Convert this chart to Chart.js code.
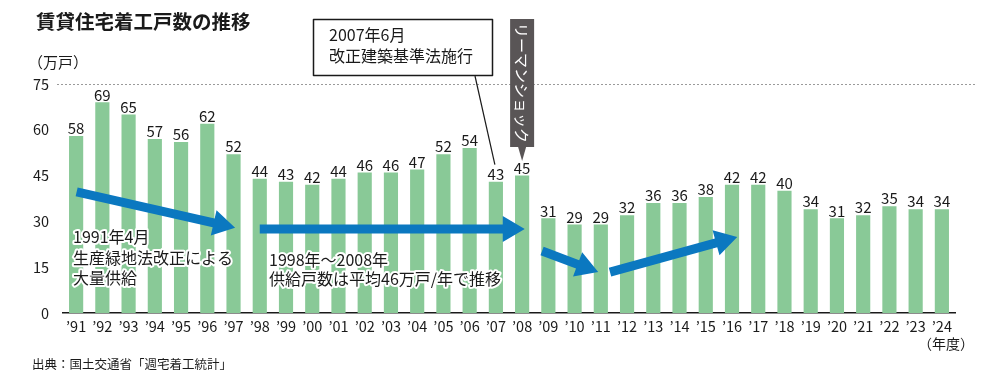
<!DOCTYPE html>
<html><head><meta charset="utf-8">
<script src="https://cdn.jsdelivr.net/npm/chart.js@4/dist/chart.umd.min.js"></script>
<style>html,body{margin:0;padding:0;background:#fff;}canvas{display:block;}</style>
</head><body>
<canvas id="c" width="1000" height="385"></canvas>
<script>
const years = ["’91","’92","’93","’94","’95","’96","’97","’98","’99","’00","’01","’02","’03","’04","’05","’06","’07","’08","’09","’10","’11","’12","’13","’14","’15","’16","’17","’18","’19","’20","’21","’22","’23","’24"];
const values = [58,69,65,57,56,62,52,44,43,42,44,46,46,47,52,54,43,45,31,29,29,32,36,36,38,42,42,40,34,31,32,35,34,34];
const yTicks = [0,15,30,45,60,75];
const titleText = "賃貸住宅着工戸数の推移";
const unitText = "（万戸）";
const xUnitText = "（年度）";
const sourceText = "出典：国土交通省「週宅着工統計」";
const note1 = ["1991年4月","生産緑地法改正による","大量供給"];
const note2 = ["1998年～2008年","供給戸数は平均46万戸/年で推移"];
const box1 = ["2007年6月","改正建築基準法施行"];
const lehman = "リーマンショック";
// arrows in data coords: [catIndexStart, valueStart, catIndexEnd, valueEnd]
const arrows = [[0.02,39.7,6.06,27.9],[7.0,27.5,17.1,27.5],[17.76,20.3,19.9,13.4],[20.35,13.4,25.2,24.9]];

const FONT = '"Noto Sans CJK JP","Noto Sans",sans-serif';
const BLUE = '#0B78C0';

function drawArrow(ctx,x1,y1,x2,y2,sw,hl,hw){
  const dx=x2-x1, dy=y2-y1, L=Math.hypot(dx,dy);
  const ux=dx/L, uy=dy/L, nx=-uy, ny=ux;
  const bx=x2-ux*hl, by=y2-uy*hl;
  ctx.beginPath();
  ctx.moveTo(x1+nx*sw/2,y1+ny*sw/2);
  ctx.lineTo(bx+nx*sw/2,by+ny*sw/2);
  ctx.lineTo(bx+nx*hw/2,by+ny*hw/2);
  ctx.lineTo(x2,y2);
  ctx.lineTo(bx-nx*hw/2,by-ny*hw/2);
  ctx.lineTo(bx-nx*sw/2,by-ny*sw/2);
  ctx.lineTo(x1-nx*sw/2,y1-ny*sw/2);
  ctx.closePath();
  ctx.fillStyle=BLUE; ctx.fill();
}
function haloText(ctx,t,x,y){
  ctx.lineJoin='round';
  ctx.strokeStyle='#fff'; ctx.lineWidth=4; ctx.strokeText(t,x,y);
  ctx.fillStyle='#1a1a1a'; ctx.fillText(t,x,y);
}

const deco = {
  id:'deco',
  beforeDatasetsDraw(chart){
    const ctx=chart.ctx, ys=chart.scales.y;
    const y75=Math.round(ys.getPixelForValue(75))+0.5;
    ctx.save();
    ctx.strokeStyle='#9a9a9a'; ctx.lineWidth=1; ctx.setLineDash([2,2]);
    ctx.beginPath(); ctx.moveTo(57,y75); ctx.lineTo(975,y75); ctx.stroke();
    ctx.restore();
  },
  afterDraw(chart){
    const ctx=chart.ctx, xs=chart.scales.x, ys=chart.scales.y;
    const x0=xs.getPixelForValue(0), step=xs.getPixelForValue(1)-x0;
    const px=i=>x0+i*step, py=v=>ys.getPixelForValue(v);
    ctx.save();
    // data labels
    ctx.font='15px '+FONT; ctx.fillStyle='#1a1a1a'; ctx.textAlign='center'; ctx.textBaseline='bottom';
    const meta=chart.getDatasetMeta(0);
    meta.data.forEach((b,i)=>{ ctx.fillText(String(values[i]), b.x, b.y); });
    // arrows
    arrows.forEach(r=>drawArrow(ctx,px(r[0]),py(r[1]),px(r[2]),py(r[3]),9,22,26));
    // notes
    ctx.font='16px '+FONT; ctx.textAlign='left'; ctx.textBaseline='middle';
    note1.forEach((t,i)=>haloText(ctx,t,73,237+i*20.5));
    note2.forEach((t,i)=>haloText(ctx,t,269,260+i*19));
    // title
    ctx.fillStyle='#1a1a1a';
    ctx.font='bold 19.5px '+FONT; ctx.textBaseline='middle';
    ctx.fillText(titleText,36,22);
    ctx.font='15px '+FONT; ctx.fillText(unitText,28,62);
    ctx.font='12.5px '+FONT; ctx.fillText(sourceText,32,364);
    ctx.font='14px '+FONT; ctx.textAlign='right'; ctx.fillText(xUnitText,974,344);
    // 2007 box
    ctx.fillStyle='#fff'; ctx.fillRect(313,19,180,57);
    ctx.strokeStyle='#1a1a1a'; ctx.lineWidth=1.5; ctx.strokeRect(313.5,19.5,179,56);
    ctx.fillStyle='#1a1a1a'; ctx.font='16px '+FONT; ctx.textAlign='left';
    ctx.fillText(box1[0],329,35); ctx.fillText(box1[1],329,56);
    ctx.lineWidth=1.2; ctx.beginPath(); ctx.moveTo(475,76); ctx.lineTo(px(16)-1,py(values[16])-17); ctx.stroke();
    // Lehman callout
    const lx=px(17);
    ctx.fillStyle='#595556';
    ctx.fillRect(lx-12,19,24,128);
    ctx.beginPath(); ctx.moveTo(lx-4,147); ctx.lineTo(lx+4,147); ctx.lineTo(lx,161); ctx.closePath(); ctx.fill();
    ctx.translate(lx,83); ctx.rotate(Math.PI/2);
    ctx.fillStyle='#fff'; ctx.font='15px '+FONT; ctx.textAlign='center'; ctx.textBaseline='middle';
    ctx.fillText(lehman,0,0);
    ctx.restore();
  }
};

new Chart(document.getElementById('c'),{
  type:'bar',
  data:{labels:years,datasets:[{data:values,backgroundColor:'#89C997',categoryPercentage:1,barPercentage:0.54}]},
  options:{
    responsive:false,animation:false,
    layout:{padding:{left:0,right:45,top:84,bottom:0}},
    plugins:{legend:{display:false},tooltip:{enabled:false}},
    scales:{
      x:{grid:{display:false,drawTicks:false},border:{display:true,color:'#1a1a1a',width:1.5},
         ticks:{font:{size:14.5,family:FONT},color:'#1a1a1a',padding:5,maxRotation:0,autoSkip:false},
         afterFit(s){s.height=72;}},
      y:{min:0,max:75,afterBuildTicks(s){s.ticks=yTicks.map(v=>({value:v}));},
         grid:{display:false,drawTicks:false},border:{display:false},
         ticks:{font:{size:14.5,family:FONT},color:'#1a1a1a',padding:14},
         afterFit(s){s.width=63;}}
    }
  },
  plugins:[deco]
});
</script>
</body></html>
